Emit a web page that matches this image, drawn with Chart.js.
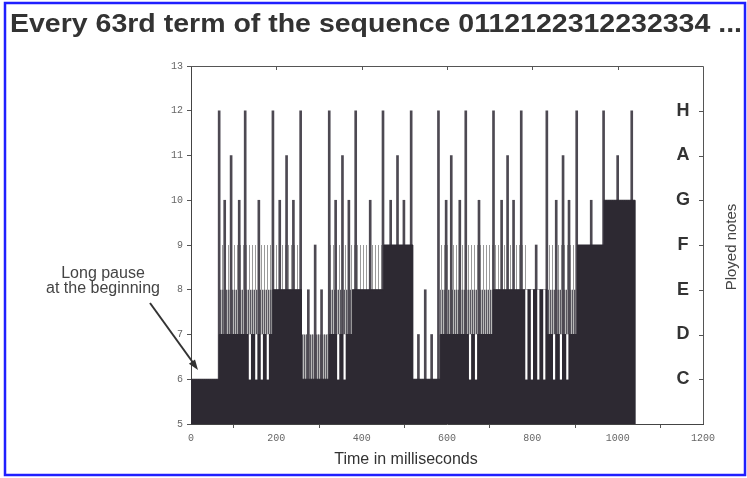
<!DOCTYPE html>
<html>
<head>
<meta charset="utf-8">
<script src="https://cdn.jsdelivr.net/npm/chart.js@4.4.0/dist/chart.umd.min.js"></script>
<style>
  html, body { margin: 0; padding: 0; background: #fff; }
  #wrap { position: relative; width: 747px; height: 478px; }
</style>
</head>
<body>
<div id="wrap">
  <canvas id="notesChart" width="747" height="478"></canvas>
</div>
<script>
// breakpoints of the stepped levels (ms) - each level holds until the next time
const stepTimes   = [0, 66, 192, 259, 324, 378, 452, 520, 584, 708, 787, 834, 906, 968, 1041];
const floorLevels = [6, 7, 8, 6, 7, 8, 9, 6, 7, 8, 8, 7, 9, 10, 5];
const midLevels   = [6, 8, 8, 7, 8, 8, 9, 6, 8, 8, 8, 8, 9, 10, 5];
const lightLevels = [6, 9, 9, 7, 9, 9, 9, 6, 9, 9, 8, 9, 9, 10, 5];

// single notes that stick out above the dark block
const spikeTimes   = [66, 79, 94, 113, 127, 159, 192, 208, 224, 240, 257, 275, 291, 306, 324, 339, 355, 370, 386, 420, 450, 468, 484, 499, 516, 533, 549, 564, 580, 598, 610, 630, 644, 675, 709, 728, 742, 756, 774, 809, 834, 856, 872, 886, 904, 938, 967, 1000, 1033];
const spikeHeights = [12, 10, 11, 10, 12, 10, 12, 10, 11, 10, 12, 8, 9, 8, 12, 10, 11, 10, 12, 10, 12, 10, 11, 10, 12, 7, 8, 7, 12, 10, 11, 10, 12, 10, 12, 10, 11, 10, 12, 9, 12, 10, 11, 10, 12, 10, 12, 11, 12];

// short drops below the block
const dipTimes = [138, 153, 166, 180, 345, 360, 654, 668, 786, 799, 814, 828, 851, 867, 882];
const dipLows  = [6, 6, 6, 6, 6, 6, 6, 6, 6, 6, 6, 6, 6, 6, 6];

const noteNames = ['C', 'D', 'E', 'F', 'G', 'A', 'H'];
const noteValues = [6, 7, 8, 9, 10, 11, 12];

function floorAt(t) {
  let level = floorLevels[0];
  for (let i = 0; i < stepTimes.length; i++) {
    if (stepTimes[i] <= t) level = floorLevels[i];
  }
  return level;
}

function stripes(w, line, ink, paper) {
  const c = document.createElement('canvas');
  c.width = w; c.height = 4;
  const g = c.getContext('2d');
  g.fillStyle = paper; g.fillRect(0, 0, w, 4);
  g.fillStyle = ink; g.fillRect(0, 0, line, 4);
  return g.createPattern(c, 'repeat');
}

const steps = levels => stepTimes.map((t, i) => ({ x: t, y: levels[i] }));

const extras = {
  id: 'extras',
  beforeDraw(chart) {
    const ctx = chart.ctx;
    ctx.save();
    ctx.fillStyle = '#fff';
    ctx.fillRect(0, 0, chart.width, chart.height);
    ctx.restore();
  },
  afterDraw(chart) {
    const ctx = chart.ctx;
    const { left, right, top, bottom } = chart.chartArea;
    const x = chart.scales.x, y = chart.scales.y;
    ctx.save();

    // frame top + right
    ctx.strokeStyle = '#555';
    ctx.lineWidth = 1;
    ctx.beginPath();
    ctx.moveTo(left, top + 0.5); ctx.lineTo(right + 0.5, top + 0.5); ctx.lineTo(right + 0.5, bottom);
    for (let v = 200; v < 1200; v += 200) {
      const px = Math.round(x.getPixelForValue(v)) + 0.5;
      ctx.moveTo(px, top); ctx.lineTo(px, top + 4);
    }
    noteValues.forEach(v => {
      const py = Math.round(y.getPixelForValue(v)) + 0.5;
      ctx.moveTo(right, py); ctx.lineTo(right - 4, py);
    });
    ctx.stroke();

    // note letters
    ctx.fillStyle = '#333';
    ctx.font = 'bold 18px "Liberation Sans", Arial, sans-serif';
    ctx.textAlign = 'center';
    ctx.textBaseline = 'middle';
    noteValues.forEach((v, i) => {
      ctx.fillText(noteNames[i], 683, y.getPixelForValue(v));
    });

    // right title
    ctx.font = '15px "Liberation Sans", Arial, sans-serif';
    ctx.fillStyle = '#444';
    ctx.translate(732, 247);
    ctx.rotate(-Math.PI / 2);
    ctx.fillText('Ployed notes', 0, 0);
    ctx.setTransform(1, 0, 0, 1, 0, 0);

    // x title
    ctx.fillStyle = '#333';
    ctx.font = '16px "Liberation Sans", Arial, sans-serif';
    ctx.fillText('Time in milliseconds', 406, 460);

    // annotation
    ctx.fillStyle = '#444';
    ctx.fillText('Long pause', 103, 274);
    ctx.fillText('at the beginning', 103, 289);
    ctx.strokeStyle = '#333';
    ctx.lineWidth = 2;
    ctx.beginPath();
    ctx.moveTo(150, 303); ctx.lineTo(194, 364);
    ctx.stroke();
    ctx.fillStyle = '#333';
    ctx.beginPath();
    const ang = Math.atan2(364 - 303, 194 - 150);
    ctx.moveTo(198, 370);
    ctx.lineTo(198 - 11 * Math.cos(ang - 0.35), 370 - 11 * Math.sin(ang - 0.35));
    ctx.lineTo(198 - 11 * Math.cos(ang + 0.35), 370 - 11 * Math.sin(ang + 0.35));
    ctx.closePath();
    ctx.fill();

    // title, stretched a little to the scan's width
    const title = 'Every 63rd term of the sequence 0112122312232334 ...';
    ctx.textAlign = 'left';
    ctx.textBaseline = 'alphabetic';
    ctx.fillStyle = '#333';
    ctx.font = 'bold 26px "Liberation Sans", Arial, sans-serif';
    const tw = ctx.measureText(title).width;
    ctx.translate(10, 32);
    ctx.scale(732 / tw, 1);
    ctx.fillText(title, 0, 0);
    ctx.setTransform(1, 0, 0, 1, 0, 0);

    // blue border
    ctx.strokeStyle = '#1f1fff';
    ctx.lineWidth = 2.5;
    ctx.strokeRect(5, 3, 740, 472);
    ctx.restore();
  }
};

const tickFont = { family: '"Liberation Mono", "DejaVu Sans Mono", monospace', size: 10 };

new Chart(document.getElementById('notesChart'), {
  type: 'line',
  data: {
    datasets: [
      {
        label: 'light',
        data: steps(lightLevels),
        stepped: true,
        fill: 'start',
        backgroundColor: stripes(3, 1, '#9a9a9a', '#ffffff'),
        borderWidth: 0,
        pointRadius: 0,
        order: 6
      },
      {
        label: 'mid',
        data: steps(midLevels),
        stepped: true,
        fill: 'start',
        backgroundColor: stripes(2, 1, '#5a5860', '#b8b8b8'),
        borderWidth: 0,
        pointRadius: 0,
        order: 5
      },
      {
        type: 'bar',
        label: 'spikes',
        data: spikeTimes.map((t, i) => ({ x: t, y: [5, spikeHeights[i]] })),
        backgroundColor: '#4d4952',
        barThickness: 2,
        grouped: false,
        order: 4
      },
      {
        label: 'floor',
        data: steps(floorLevels),
        stepped: true,
        fill: 'start',
        backgroundColor: '#2d2932',
        borderColor: '#2d2932',
        borderWidth: 1,
        pointRadius: 0,
        order: 3
      },
      {
        type: 'bar',
        label: 'dips',
        data: dipTimes.map((t, i) => ({ x: t, y: [dipLows[i], floorAt(t)] })),
        backgroundColor: '#ffffff',
        barThickness: 1.5,
        grouped: false,
        order: 2
      }
    ]
  },
  options: {
    responsive: false,
    animation: false,
    layout: { padding: { top: 66, right: 44, left: 0, bottom: 0 } },
    plugins: { legend: { display: false }, tooltip: { enabled: false } },
    scales: {
      x: {
        type: 'linear',
        min: 0,
        max: 1200,
        offset: false,
        ticks: { stepSize: 200, font: tickFont, color: '#666', padding: 4, maxRotation: 0, callback: v => String(v) },
        grid: { drawOnChartArea: false, tickLength: 4, color: '#555' },
        border: { color: '#444' },
        afterFit: s => { s.height = 54; }
      },
      y: {
        min: 5,
        max: 13,
        ticks: { stepSize: 1, font: tickFont, color: '#666', padding: 4 },
        grid: { drawOnChartArea: false, tickLength: 4, color: '#555' },
        border: { color: '#444' },
        afterFit: s => { s.width = 191; }
      }
    }
  },
  plugins: [extras]
});
</script>
</body>
</html>
